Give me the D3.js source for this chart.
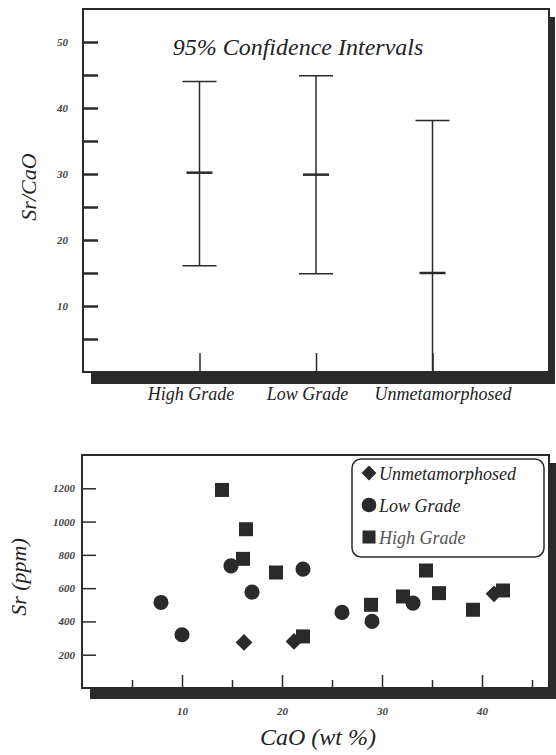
<!DOCTYPE html>
<html>
<head>
<meta charset="utf-8">
<script src="https://d3js.org/d3.v7.min.js"></script>
<style>
    body { margin: 0; background: #fff; }
    svg text { font-family: "Liberation Serif", "DejaVu Serif", serif; font-style: italic; fill: #222; }
    .tickText text { font-weight: bold; font-size: 11px; fill: #444; }
</style>
</head>
<body>
<div id="chart"></div>
<script>

// Sr/CaO 95% confidence intervals
var ciCategories = ["High Grade", "Low Grade", "Unmetamorphosed"];
var ciUpper = [44.0, 44.9, 38.1];
var ciMean = [30.2, 29.9, 15.0];
var ciLower = [16.1, 14.9, 0];
var ciTicks = [5, 10, 15, 20, 25, 30, 35, 40, 45, 50];

// Sr vs CaO scatter
var unmetCaO = [16.2, 21.2, 41.2];
var unmetSr = [274, 280, 566];
var lowCaO = [7.9, 10.0, 14.9, 17.0, 22.1, 26.0, 29.0, 33.1];
var lowSr = [514, 320, 734, 576, 714, 454, 400, 510];
var highCaO = [14.0, 16.4, 16.1, 19.4, 22.1, 28.9, 32.1, 34.4, 35.7, 39.1, 42.1];
var highSr = [1190, 954, 776, 694, 310, 500, 550, 706, 570, 470, 586];
var srTicks = [200, 400, 600, 800, 1000, 1200];
var caoTicks = [5, 10, 15, 20, 25, 30, 35, 40, 45];
var legendLabels = ["Unmetamorphosed", "Low Grade", "High Grade"];

var ink = "#2a2a2a";

var svg = d3.select("#chart").append("svg")
    .attr("width", 556)
    .attr("height", 755);

// frame with drop shadow, like the old plotting program did
function drawFrame(g, x0, x1, y0, y1, dx, dy) {
    g.append("rect")
        .attr("x", x0 + 8).attr("y", y0 + 8)
        .attr("width", x1 - x0 + dx - 8)
        .attr("height", y1 - y0 + dy - 8)
        .style("fill", ink);
    g.append("rect")
        .attr("x", x0).attr("y", y0)
        .attr("width", x1 - x0)
        .attr("height", y1 - y0)
        .style("fill", "#fff")
        .style("stroke", ink)
        .style("stroke-width", 2);
}

// ---------- top: confidence intervals ----------
var ciChart = svg.append("g");

var ciX = d3.scalePoint().domain(ciCategories).range([83, 549]).padding(1);
var ciY = d3.scaleLinear().domain([0, 55]).range([372, 9]);

drawFrame(ciChart, 83, 549, 9, 372, 6, 12);

var yAxis1 = ciChart.append("g")
    .attr("class", "tickText")
    .attr("transform", "translate(83,0)")
    .call(d3.axisLeft(ciY)
        .tickValues(ciTicks)
        .tickSize(-15)
        .tickPadding(15)
        .tickFormat(function(d) { return d % 10 === 0 ? d : ""; }));
yAxis1.select(".domain").remove();
yAxis1.selectAll("line").style("stroke", ink).style("stroke-width", 2.5);

var xAxis1 = ciChart.append("g")
    .attr("transform", "translate(0,372)")
    .call(d3.axisBottom(ciX).tickSize(-19).tickPadding(15));
xAxis1.select(".domain").remove();
xAxis1.selectAll("line").style("stroke", ink).style("stroke-width", 1.5);
// the labels sit a little off their ticks in the original
xAxis1.selectAll("text")
    .attr("dx", function(d, i) { return i === 2 ? 10 : -9; })
    .style("font-size", "18px").style("fill", "#222");

var bars = ciChart.selectAll(".ci")
    .data(ciCategories)
    .enter().append("g")
    .attr("class", "ci");

bars.append("line")
    .attr("x1", function(d) { return ciX(d); })
    .attr("x2", function(d) { return ciX(d); })
    .attr("y1", function(d, i) { return ciY(ciUpper[i]); })
    .attr("y2", function(d, i) { return ciY(ciLower[i]); })
    .style("stroke", ink).style("stroke-width", 1.5);

bars.append("line")
    .attr("x1", function(d) { return ciX(d) - 17; })
    .attr("x2", function(d) { return ciX(d) + 17; })
    .attr("y1", function(d, i) { return ciY(ciUpper[i]); })
    .attr("y2", function(d, i) { return ciY(ciUpper[i]); })
    .style("stroke", ink).style("stroke-width", 1.5);

bars.append("line")
    .attr("x1", function(d) { return ciX(d) - 17; })
    .attr("x2", function(d) { return ciX(d) + 17; })
    .attr("y1", function(d, i) { return ciY(ciLower[i]); })
    .attr("y2", function(d, i) { return ciY(ciLower[i]); })
    .style("stroke", ink).style("stroke-width", 1.5);

bars.append("line")
    .attr("x1", function(d) { return ciX(d) - 13; })
    .attr("x2", function(d) { return ciX(d) + 13; })
    .attr("y1", function(d, i) { return ciY(ciMean[i]); })
    .attr("y2", function(d, i) { return ciY(ciMean[i]); })
    .style("stroke", ink).style("stroke-width", 2.5);

ciChart.append("text")
    .attr("x", 298).attr("y", 55)
    .attr("text-anchor", "middle")
    .style("font-size", "24px")
    .text("95% Confidence Intervals");

ciChart.append("text")
    .attr("transform", "translate(36,187) rotate(-90)")
    .attr("text-anchor", "middle")
    .style("font-size", "22px")
    .text("Sr/CaO");

// ---------- bottom: Sr vs CaO ----------
var scatter = svg.append("g");

var x = d3.scaleLinear().domain([0, 46.7]).range([82, 549]);
var y = d3.scaleLinear().domain([0, 1400]).range([688, 455]);

drawFrame(scatter, 82, 549, 455, 688, 7, 11);

var yAxis2 = scatter.append("g")
    .attr("class", "tickText")
    .attr("transform", "translate(82,0)")
    .call(d3.axisLeft(y).tickValues(srTicks).tickSize(-14).tickPadding(7)
        .tickFormat(d3.format("d")));
yAxis2.select(".domain").remove();
yAxis2.selectAll("line").style("stroke", ink).style("stroke-width", 1.5);

var xAxis2 = scatter.append("g")
    .attr("class", "tickText")
    .attr("transform", "translate(0,688)")
    .call(d3.axisBottom(x)
        .tickValues(caoTicks)
        .tickSize(-13)
        .tickPadding(19)
        .tickFormat(function(d) { return d % 10 === 0 ? d : ""; }));
xAxis2.select(".domain").remove();
xAxis2.selectAll("line")
    .attr("y2", function(d) { return d % 10 === 0 ? -13 : -8; })
    .style("stroke", ink).style("stroke-width", 1.5);

var sym = d3.symbol();

scatter.selectAll(".high")
    .data(highCaO)
    .enter().append("path")
    .attr("class", "high")
    .attr("d", sym.type(d3.symbolSquare).size(196)())
    .attr("transform", function(d, i) { return "translate(" + x(d) + "," + y(highSr[i]) + ")"; })
    .style("fill", ink);

scatter.selectAll(".low")
    .data(lowCaO)
    .enter().append("path")
    .attr("class", "low")
    .attr("d", sym.type(d3.symbolCircle).size(180)())
    .attr("transform", function(d, i) { return "translate(" + x(d) + "," + y(lowSr[i]) + ")"; })
    .style("fill", ink);

scatter.selectAll(".unmet")
    .data(unmetCaO)
    .enter().append("path")
    .attr("class", "unmet")
    .attr("d", sym.type(d3.symbolSquare).size(140)())
    .attr("transform", function(d, i) { return "translate(" + x(d) + "," + y(unmetSr[i]) + ") rotate(45)"; })
    .style("fill", ink);

// legend
var legend = scatter.append("g");
legend.append("rect")
    .attr("x", 352).attr("y", 459)
    .attr("width", 192).attr("height", 98)
    .attr("rx", 9)
    .style("fill", "#fff")
    .style("stroke", ink)
    .style("stroke-width", 1.5);

var legendShapes = [
    sym.type(d3.symbolSquare).size(110)(),
    sym.type(d3.symbolCircle).size(170)(),
    sym.type(d3.symbolSquare).size(170)()
];
var legendRows = legend.selectAll(".row")
    .data(legendLabels)
    .enter().append("g")
    .attr("class", "row")
    .attr("transform", function(d, i) { return "translate(369," + (473 + i * 32) + ")"; });

legendRows.append("path")
    .attr("d", function(d, i) { return legendShapes[i]; })
    .attr("transform", function(d, i) { return i === 0 ? "rotate(45)" : null; })
    .style("fill", ink);

legendRows.append("text")
    .attr("x", 10).attr("y", 7)
    .style("font-size", "18px")
    .style("fill", function(d, i) { return i === 2 ? "#555" : "#222"; })
    .text(function(d) { return d; });

scatter.append("text")
    .attr("x", 318).attr("y", 745)
    .attr("text-anchor", "middle")
    .style("font-size", "24px")
    .text("CaO (wt %)");

scatter.append("text")
    .attr("transform", "translate(26,577) rotate(-90)")
    .attr("text-anchor", "middle")
    .style("font-size", "22px")
    .text("Sr (ppm)");

</script>
</body>
</html>
